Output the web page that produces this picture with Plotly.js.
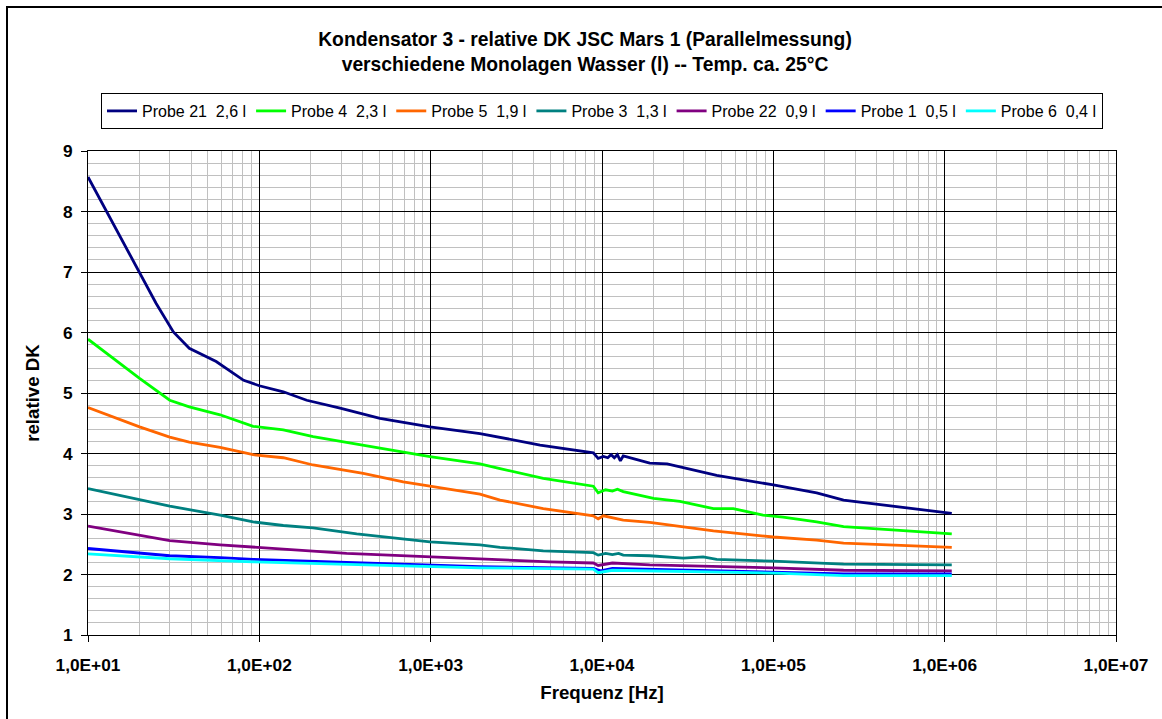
<!DOCTYPE html>
<html>
<head>
<meta charset="utf-8">
<script src="https://cdn.plot.ly/plotly-3.0.1.min.js"></script>
<style>html,body{margin:0;padding:0;background:#fff;}#chart{width:1162px;height:719px;}</style>
</head>
<body>
<div id="chart"></div>
<script>
// ---- data ----
const names = ["Probe 21\u00a0\u00a02,6 l", "Probe 4\u00a0\u00a02,3 l", "Probe 5\u00a0\u00a01,9 l", "Probe 3\u00a0\u00a01,3 l", "Probe 22\u00a0\u00a00,9 l", "Probe 1\u00a0\u00a00,5 l", "Probe 6\u00a0\u00a00,4 l"];
const colors = ["#000080", "#00ff00", "#ff6600", "#008080", "#800080", "#0000ff", "#00ffff"];

const f21 = [10, 20, 25, 31.5, 39, 56, 81, 100, 138, 189, 296, 506, 990, 1940, 4350, 8900, 9500, 10200, 10800, 11300, 11800, 12300, 12800, 13300, 19000, 24000, 46700, 100000, 179000, 257000, 440000, 750000, 1100000];
const dk21 = [8.57, 7.0, 6.48, 6.01, 5.74, 5.52, 5.21, 5.12, 5.02, 4.88, 4.75, 4.58, 4.44, 4.33, 4.14, 4.01, 3.92, 3.95, 3.93, 3.98, 3.93, 3.98, 3.88, 3.96, 3.84, 3.83, 3.64, 3.48, 3.35, 3.23, 3.15, 3.07, 3.01];

const f4 = [10, 20, 30, 39, 59, 92, 138, 206, 506, 990, 1940, 2540, 4540, 8900, 9500, 10500, 11500, 12300, 13300, 20000, 28500, 44700, 58400, 87000, 114000, 179000, 257000, 440000, 690000, 1100000];
const dk4 = [5.89, 5.24, 4.88, 4.77, 4.64, 4.45, 4.39, 4.28, 4.09, 3.95, 3.83, 3.75, 3.59, 3.46, 3.35, 3.40, 3.38, 3.41, 3.37, 3.26, 3.21, 3.09, 3.09, 2.98, 2.95, 2.87, 2.79, 2.75, 2.71, 2.67];

const f5 = [10, 20, 30, 39, 59, 92, 138, 206, 404, 692, 990, 1940, 2540, 4540, 8900, 9500, 10200, 13300, 19000, 29800, 44700, 100000, 179000, 257000, 440000, 1100000];
const dk5 = [4.76, 4.44, 4.27, 4.19, 4.10, 3.98, 3.93, 3.81, 3.67, 3.53, 3.46, 3.33, 3.23, 3.09, 2.97, 2.92, 2.97, 2.90, 2.86, 2.79, 2.72, 2.62, 2.57, 2.52, 2.49, 2.45];

const f3 = [10, 20, 30, 59, 92, 138, 206, 370, 692, 990, 1940, 2540, 4540, 8900, 9500, 10500, 11500, 12500, 13300, 19000, 29800, 38900, 46700, 100000, 257000, 1100000];
const dk3 = [3.42, 3.23, 3.13, 2.98, 2.87, 2.81, 2.77, 2.67, 2.59, 2.54, 2.49, 2.45, 2.39, 2.36, 2.32, 2.35, 2.33, 2.35, 2.32, 2.31, 2.27, 2.29, 2.25, 2.22, 2.17, 2.16];

const f22 = [10, 20, 30, 59, 92, 138, 323, 990, 1940, 4960, 8900, 9500, 11500, 19000, 100000, 257000, 1100000];
const dk22 = [2.80, 2.65, 2.56, 2.49, 2.45, 2.42, 2.35, 2.29, 2.26, 2.21, 2.19, 2.15, 2.19, 2.16, 2.11, 2.07, 2.06];

const f1 = [10, 20, 30, 59, 92, 323, 990, 1940, 8900, 9800, 11500, 100000, 257000, 1100000];
const dk1 = [2.43, 2.35, 2.31, 2.28, 2.25, 2.20, 2.16, 2.13, 2.10, 2.06, 2.10, 2.03, 2.01, 2.01];

const f6 = [10, 20, 30, 92, 323, 990, 1940, 8900, 9500, 11500, 29800, 114000, 257000, 1100000];
const dk6 = [2.34, 2.29, 2.26, 2.21, 2.17, 2.13, 2.11, 2.09, 2.03, 2.07, 2.05, 2.02, 1.98, 1.98];

const xTickVals = [10, 100, 1000, 10000, 100000, 1000000, 10000000];
const xTickText = ["1,0E+01", "1,0E+02", "1,0E+03", "1,0E+04", "1,0E+05", "1,0E+06", "1,0E+07"];

// ---- chart ----
const xs = [f21, f4, f5, f3, f22, f1, f6];
const ys = [dk21, dk4, dk5, dk3, dk22, dk1, dk6];
const traces = xs.map((x, i) => ({
  x: x, y: ys[i], name: names[i], type: "scatter", mode: "lines",
  line: {color: colors[i], width: 2.8}
}));

const FONT = "'Liberation Sans', Arial, sans-serif";
const boldTick = {family: FONT, size: 17.3, color: "#000", weight: "bold"};
const boldTitle = {family: FONT, size: 18.7, color: "#000", weight: "bold"};

const layout = {
  width: 1162, height: 719,
  margin: {l: 88, r: 46, t: 151, b: 84},
  paper_bgcolor: "#fff", plot_bgcolor: "#fff",
  font: {family: FONT, color: "#000"},
  title: {
    text: "Kondensator 3 - relative DK JSC Mars 1 (Parallelmessung)<br>verschiedene Monolagen Wasser (l) -- Temp. ca. 25°C",
    font: {family: FONT, size: 19.3, color: "#000", weight: "bold"},
    x: 585 / 1162, xref: "container", xanchor: "center",
    y: 1 - 46 / 719, yref: "container", yanchor: "top"
  },
  showlegend: true,
  legend: {
    orientation: "h", x: 0.5, xanchor: "center", y: (635 - 93) / 484, yanchor: "top",
    bordercolor: "#000", borderwidth: 1, bgcolor: "#fff",
    font: {family: FONT, size: 16, color: "#000"},
    traceorder: "normal", itemwidth: 30, tracegroupgap: 0
  },
  xaxis: {
    type: "log", range: [1, 7],
    tickmode: "array", tickvals: xTickVals, ticktext: xTickText,
    tickfont: boldTick, ticks: "outside", ticklen: 6, tickcolor: "#000",
    ticklabelstandoff: 8,
    showline: true, linecolor: "#000", linewidth: 1, mirror: true,
    showgrid: true, gridcolor: "#000", gridwidth: 1,
    minor: {dtick: "D1", showgrid: true, gridcolor: "#c0c0c0", gridwidth: 1, ticks: ""},
    zeroline: false,
    title: {text: "Frequenz [Hz]", font: boldTitle, standoff: 12}
  },
  yaxis: {
    range: [1, 9], dtick: 1, tick0: 1,
    tickfont: boldTick, ticks: "outside", ticklen: 6, tickcolor: "#000",
    ticklabelstandoff: 5,
    showline: true, linecolor: "#000", linewidth: 1, mirror: true,
    showgrid: true, gridcolor: "#000", gridwidth: 1,
    minor: {dtick: 0.2, showgrid: true, gridcolor: "#c0c0c0", gridwidth: 1, ticks: ""},
    zeroline: false,
    title: {text: "relative DK", font: boldTitle, standoff: 18}
  },
  shapes: [{
    type: "rect", xref: "paper", yref: "paper",
    x0: (7 - 88) / 1028, x1: (1175 - 88) / 1028,
    y0: (635 - 740) / 484, y1: (635 - 7) / 484,
    line: {color: "#000", width: 2}, fillcolor: "rgba(0,0,0,0)", layer: "below"
  }]
};

Plotly.newPlot("chart", traces, layout, {displayModeBar: false, staticPlot: true});
</script>
</body>
</html>
